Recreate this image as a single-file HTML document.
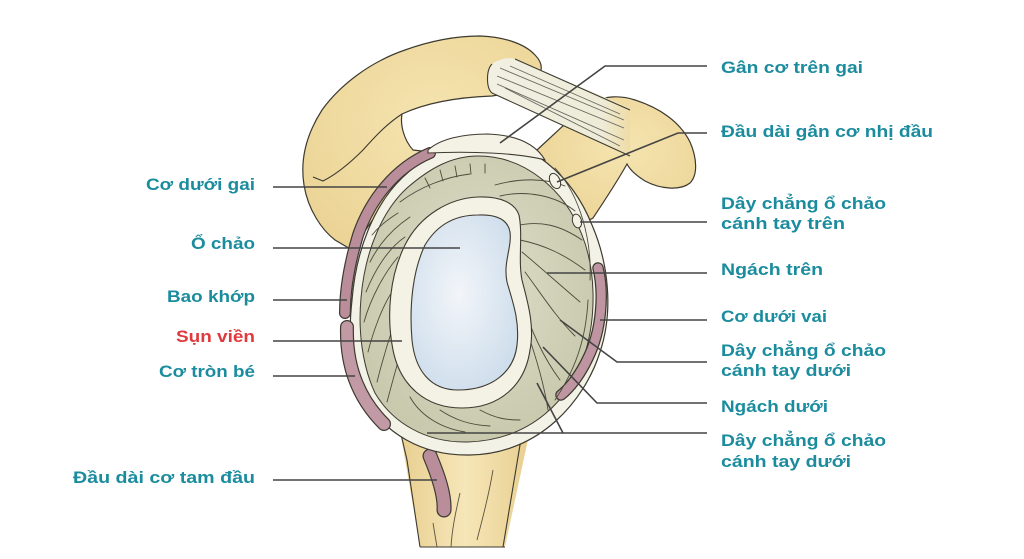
<!DOCTYPE html>
<html><head><meta charset="utf-8">
<style>
html,body{margin:0;padding:0;background:#fff;}
svg{display:block;}
text{font-family:"Liberation Sans","DejaVu Sans",sans-serif;font-weight:bold;font-size:17px;}
</style></head>
<body>
<svg width="1024" height="559" viewBox="0 0 1024 559" xmlns="http://www.w3.org/2000/svg">
<defs>
<radialGradient id="bone" cx="0.55" cy="0.4" r="0.7">
<stop offset="0" stop-color="#f5e4b0"/><stop offset="1" stop-color="#ebd394"/>
</radialGradient>
<linearGradient id="shaft" x1="0" x2="1" y1="0" y2="0">
<stop offset="0" stop-color="#e8cf90"/><stop offset="0.5" stop-color="#f6e6b8"/><stop offset="1" stop-color="#e8cf90"/>
</linearGradient>
<linearGradient id="tend" x1="0" x2="1" y1="0" y2="0">
<stop offset="0" stop-color="#f1f0e2"/><stop offset="0.8" stop-color="#eeecd8"/><stop offset="1" stop-color="#efdca6"/>
</linearGradient>
<radialGradient id="blue" cx="0.45" cy="0.45" r="0.6">
<stop offset="0" stop-color="#f2f5f9"/><stop offset="1" stop-color="#cfdeec"/>
</radialGradient>
<radialGradient id="green" cx="0.5" cy="0.45" r="0.55">
<stop offset="0" stop-color="#dedfca"/><stop offset="1" stop-color="#c8c9ad"/>
</radialGradient>
</defs>

<!-- coracoid -->
<path d="M537,150 L565,124 L595,102 C605,96 620,95 635,100 C660,108 680,122 690,142 C697,158 698,175 690,183 C680,191 660,189 645,181 C637,176 630,170 627,164 C618,180 605,200 593,218 L580,225 L545,175 Z" fill="url(#bone)" stroke="#3d3a30" stroke-width="1.2"/>

<!-- scapula / acromion -->
<path d="M352,250 L335,240 C322,230 308,210 304,185 C300,160 306,135 322,110 C340,85 370,62 405,50 C430,41 455,36 480,36 C505,37 525,44 535,55 C540,60 542,65 541,70 L530,90 L492,96 C465,97 430,101 402,114 C400,125 404,140 413,150 L430,152 L400,180 Z" fill="url(#bone)" stroke="#3d3a30" stroke-width="1.2"/>
<path d="M313,177 L323,181 C335,175 348,165 363,150 C372,140 385,125 402,114" fill="none" stroke="#3d3a30" stroke-width="1.1"/>

<!-- tendon -->
<path d="M492,64 C500,58 510,57 515,59 L630,108 L630,156 L492,93 C486,88 486,70 492,64 Z" fill="url(#tend)"/>
<path d="M515,59 L630,110 M492,93 L630,156 M492,64 C486,70 486,88 492,93" fill="none" stroke="#3d3a30" stroke-width="1.1"/>
<g stroke="#6a6a60" stroke-width="0.9" fill="none">
<path d="M500,68 L624,120"/><path d="M497,76 L624,128"/><path d="M497,84 L624,140"/><path d="M510,66 L620,114"/><path d="M505,88 L620,146"/>
</g>

<!-- humerus shaft -->
<path d="M400,430 L420,547 L505,547 L530,430 Z" fill="url(#shaft)"/>
<path d="M400,430 L407,460 L420,547 M530,430 L520,445 L503,547 M420,547 L505,547" fill="none" stroke="#3d3a30" stroke-width="1.1"/>
<g stroke="#5a5440" stroke-width="0.9" fill="none">
<path d="M493,470 C488,500 482,520 477,540"/><path d="M460,493 C455,515 452,530 451,547"/><path d="M433,523 L437,547"/>
</g>
<!-- triceps -->
<path d="M430,456 C438,475 445,495 444,510" fill="none" stroke="#3d3a30" stroke-width="15" stroke-linecap="round"/>
<path d="M430,456 C438,475 445,495 444,510" fill="none" stroke="#b98d9a" stroke-width="12.6" stroke-linecap="round"/>

<!-- capsule outer white -->
<path d="M480,139 C530,139 572,175 592,225 C608,262 614,310 600,352 C585,400 540,454 470,455 C420,456 385,432 365,400 C350,372 348,335 352,300 C356,250 374,205 402,178 C424,157 450,139 480,139 Z" fill="#f3f2e6" stroke="#3d3a30" stroke-width="1.2"/>
<!-- green -->
<path d="M478,156 C525,156 565,190 582,235 C596,270 596,315 586,350 C572,400 530,440 468,442 C425,443 392,422 375,393 C362,365 358,330 361,298 C365,250 383,210 407,188 C430,168 452,156 478,156 Z" fill="url(#green)" stroke="#3d3a30" stroke-width="1"/>

<!-- right purple -->
<path d="M598,268 C604,292 602,330 588,358 C580,375 570,388 561,395" fill="none" stroke="#3d3a30" stroke-width="11.5" stroke-linecap="round"/>
<path d="M598,268 C604,292 602,330 588,358 C580,375 570,388 561,395" fill="none" stroke="#bf95a2" stroke-width="9" stroke-linecap="round"/>
<!-- left purples -->
<path d="M430,153 C395,168 370,200 358,235 C349,265 345,290 345,313" fill="none" stroke="#3d3a30" stroke-width="12" stroke-linecap="round"/>
<path d="M430,153 C395,168 370,200 358,235 C349,265 345,290 345,313" fill="none" stroke="#b98d9a" stroke-width="9.6" stroke-linecap="round"/>
<path d="M347,327 C346,362 356,396 384,424" fill="none" stroke="#3d3a30" stroke-width="14" stroke-linecap="round"/>
<path d="M347,327 C346,362 356,396 384,424" fill="none" stroke="#c29aa6" stroke-width="11.6" stroke-linecap="round"/>

<!-- top cap -->
<path d="M428,150 C440,139 462,134 488,134 C515,135 535,143 545,160 C520,153 470,151 428,153 Z" fill="#f3f2e4" stroke="#3d3a30" stroke-width="1.1"/>

<!-- fibers -->
<g stroke="#4d4c3c" stroke-width="0.9" fill="none" stroke-linecap="round">
<path d="M370,262 C380,242 395,227 410,217"/>
<path d="M366,292 C376,267 390,247 405,237"/>
<path d="M364,322 C371,297 385,272 398,257"/>
<path d="M368,352 C373,332 382,307 392,292"/>
<path d="M377,382 C382,362 388,342 393,327"/>
<path d="M387,402 C391,387 395,372 398,362"/>
<path d="M372,235 C380,225 390,218 398,213"/>
<path d="M400,202 C420,187 445,177 470,174"/>
<path d="M440,170 L443,181"/><path d="M455,166 L457,177"/><path d="M470,164 L471,174"/><path d="M485,164 L485,173"/><path d="M425,178 L430,188"/>
<path d="M495,185 C520,178 545,178 565,186"/>
<path d="M500,196 C525,190 555,195 575,211"/>
<path d="M515,226 C540,220 560,225 582,240"/>
<path d="M520,240 C545,245 565,255 585,270"/>
<path d="M522,252 C540,267 560,285 580,302"/>
<path d="M525,272 C540,292 555,316 575,336"/>
<path d="M522,300 C530,330 545,360 560,380"/>
<path d="M530,340 C540,370 545,390 548,410"/>
<path d="M410,397 C420,415 440,428 465,432"/>
<path d="M440,410 C455,420 470,425 490,426"/>
<path d="M480,410 C495,418 505,420 520,420"/>
<path d="M555,168 C580,195 592,240 590,280"/>
<path d="M588,300 C586,340 575,370 555,400"/>
</g>
<!-- small tendon ovals -->
<ellipse cx="555" cy="181" rx="5" ry="8" transform="rotate(-25 555 181)" fill="#f3f2e4" stroke="#3d3a30" stroke-width="1"/>
<ellipse cx="577" cy="221" rx="4.5" ry="7" transform="rotate(-15 577 221)" fill="#f3f2e4" stroke="#3d3a30" stroke-width="1"/>

<!-- labrum -->
<path d="M478,197 C500,196 515,203 519,215 C523,235 518,260 522,280 C527,300 535,325 530,350 C525,385 500,408 462,408 C425,408 400,385 393,350 C386,315 390,275 405,245 C420,215 450,198 478,197 Z" fill="#f3f2e4" stroke="#3d3a30" stroke-width="1.1"/>
<!-- glenoid -->
<path d="M478,215 C497,214 508,220 510,232 C512,248 503,262 507,282 C512,300 520,320 517,345 C514,372 492,390 458,390 C430,390 415,370 412,340 C409,305 413,270 425,245 C437,225 455,215 478,215 Z" fill="url(#blue)" stroke="#3d3a30" stroke-width="1.1"/>

<!-- leader lines -->
<g stroke="#444" stroke-width="1.6" fill="none">
<path d="M707,66 L605,66 L500,143"/>
<path d="M707,133 L678,133 L557,182"/>
<path d="M707,222 L580,222"/>
<path d="M707,273 L547,273"/>
<path d="M707,320 L600,320"/>
<path d="M707,362 L617,362 L560,320"/>
<path d="M707,403 L597,403 L543,347"/>
<path d="M707,433 L427,433"/>
<path d="M563,433 L537,383"/>
<path d="M273,187 L387,187"/>
<path d="M273,248 L460,248"/>
<path d="M273,300 L347,300"/>
<path d="M273,341 L402,341"/>
<path d="M273,376 L355,376"/>
<path d="M273,480 L437,480"/>
</g>

<!-- labels -->
<g fill="#1b8c9e">
<text x="146" y="190" textLength="109" lengthAdjust="spacingAndGlyphs">Cơ dưới gai</text>
<text x="191" y="249" textLength="64" lengthAdjust="spacingAndGlyphs">Ổ chảo</text>
<text x="167" y="302" textLength="88" lengthAdjust="spacingAndGlyphs">Bao khớp</text>
<text x="159" y="377" textLength="96" lengthAdjust="spacingAndGlyphs">Cơ tròn bé</text>
<text x="73" y="483" textLength="182" lengthAdjust="spacingAndGlyphs">Đầu dài cơ tam đầu</text>
<text x="721" y="73" textLength="142" lengthAdjust="spacingAndGlyphs">Gân cơ trên gai</text>
<text x="721" y="137" textLength="212" lengthAdjust="spacingAndGlyphs">Đầu dài gân cơ nhị đầu</text>
<text x="721" y="209" textLength="165" lengthAdjust="spacingAndGlyphs">Dây chẳng ổ chảo</text>
<text x="721" y="229" textLength="124" lengthAdjust="spacingAndGlyphs">cánh tay trên</text>
<text x="721" y="275" textLength="102" lengthAdjust="spacingAndGlyphs">Ngách trên</text>
<text x="721" y="322" textLength="106" lengthAdjust="spacingAndGlyphs">Cơ dưới vai</text>
<text x="721" y="356" textLength="165" lengthAdjust="spacingAndGlyphs">Dây chẳng ổ chảo</text>
<text x="721" y="376" textLength="130" lengthAdjust="spacingAndGlyphs">cánh tay dưới</text>
<text x="721" y="412" textLength="107" lengthAdjust="spacingAndGlyphs">Ngách dưới</text>
<text x="721" y="446" textLength="165" lengthAdjust="spacingAndGlyphs">Dây chẳng ổ chảo</text>
<text x="721" y="467" textLength="130" lengthAdjust="spacingAndGlyphs">cánh tay dưới</text>
</g>
<text x="176" y="342" textLength="79" lengthAdjust="spacingAndGlyphs" fill="#e0393d">Sụn viền</text>
</svg>
</body></html>
